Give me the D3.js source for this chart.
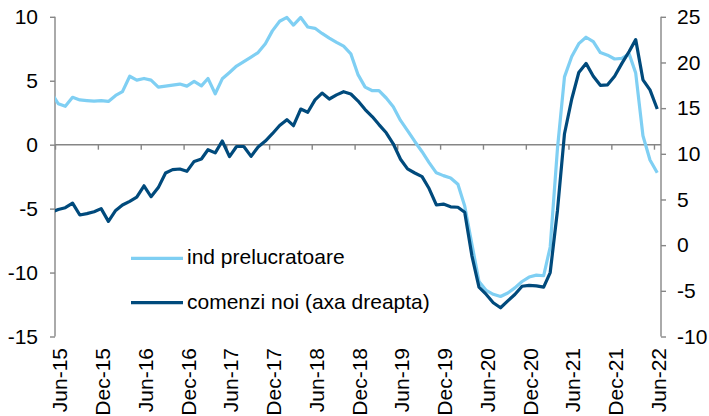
<!DOCTYPE html>
<html>
<head>
<meta charset="utf-8">
<script src="https://cdn.jsdelivr.net/npm/d3@7"></script>
<style>
  html, body { margin: 0; padding: 0; background: #ffffff; }
  svg { display: block; }
  text { font-family: Arial, "Liberation Sans", sans-serif; fill: #000; }
</style>
</head>
<body>
<svg id="chart" width="709" height="416"></svg>
<script>
// ---- data (monthly, first value = May-15, partially outside the axis) ----
const firstMonth = "2015-05";
const indPrelucratoare = [
  4.1,
  3.2, 3.0, 3.7, 3.5, 3.45, 3.4, 3.45, 3.38, 3.85, 4.15,
  5.35, 5.05, 5.18, 5.05, 4.5, 4.58, 4.66, 4.74, 4.58, 4.95,
  4.6, 5.18, 3.98, 5.15, 5.65, 6.15, 6.5, 6.85, 7.2, 7.9,
  8.9, 9.65, 9.95, 9.35, 9.95, 9.2, 9.1, 8.7, 8.33, 8.0,
  7.7, 7.1, 5.5, 4.5, 4.22, 4.22, 3.65, 2.97, 1.9, 1.1,
  0.25, -0.55, -1.4, -2.2, -2.42, -2.6, -3.1, -4.8, -7.8, -10.7,
  -11.4, -11.7, -11.87, -11.6, -11.2, -10.7, -10.35, -10.2, -10.25, -8.0,
  -0.3, 5.3, 6.9, 7.9, 8.4, 8.05, 7.2, 7.0, 6.7, 6.75,
  7.1, 5.6, 0.7, -1.2, -2.2
];
const comenziNoi = [
  3.6,
  3.9, 4.1, 4.6, 3.3, 3.45, 3.65, 4.0, 2.6, 3.8, 4.4,
  4.8, 5.25, 6.5, 5.3, 6.3, 7.9, 8.27, 8.34, 8.08, 9.17,
  9.43, 10.45, 10.1, 11.4, 9.7, 10.8, 10.8, 9.72, 10.75, 11.4,
  12.2, 13.1, 13.74, 13.08, 14.9, 14.55, 15.9, 16.65, 16.0, 16.45,
  16.8, 16.55, 15.8, 14.85, 14.05, 13.2, 12.3, 11.1, 9.4, 8.35,
  7.9, 7.5, 6.2, 4.4, 4.5, 4.2, 4.15, 3.6, -1.2, -4.6,
  -5.4, -6.3, -6.85, -6.1, -5.4, -4.5, -4.4, -4.45, -4.6, -3.0,
  3.8, 12.2, 16.0, 18.9, 19.9, 18.5, 17.5, 17.55, 18.5, 19.9,
  21.2, 22.5, 18.1, 17.0, 14.9
];
const leftTicks = [-15, -10, -5, 0, 5, 10];
const rightTicks = [-10, -5, 0, 5, 10, 15, 20, 25];
const xTickLabels = ["Jun-15","Dec-15","Jun-16","Dec-16","Jun-17","Dec-17","Jun-18",
  "Dec-18","Jun-19","Dec-19","Jun-20","Dec-20","Jun-21","Dec-21","Jun-22"];
const seriesNames = ["ind prelucratoare", "comenzi noi (axa dreapta)"];
const colors = ["#7fcff3", "#004a7c"];

// ---- scales ----
const parseMonth = d3.timeParse("%Y-%m");
const parseLabel = d3.timeParse("%b-%y");
const startMonth = parseMonth(firstMonth);
const dates = indPrelucratoare.map((_, i) => d3.timeDay.offset(d3.timeMonth.offset(startMonth, i), 14));
const tickDates = xTickLabels.map(parseLabel);

const plotLeft = 55, plotRight = 661, plotTop = 16.8, plotBottom = 336.5;
const fontSize = "21px";
const x = d3.scaleTime().domain([new Date(2015, 5, 1), new Date(2022, 6, 1)]).range([plotLeft, plotRight]);
const yL = d3.scaleLinear().domain([-15, 10]).range([plotBottom, plotTop]);
const yR = d3.scaleLinear().domain([-10, 25]).range([plotBottom, plotTop]);
const hyphenFormat = d => String(d); // plain hyphen-minus, as in the reference

const svg = d3.select("#chart");
const axisColor = "#868686";

svg.append("defs").append("clipPath").attr("id", "plotclip")
  .append("rect").attr("x", plotLeft).attr("y", 0).attr("width", plotRight - plotLeft).attr("height", 416);

// ---- axes ----
const gL = svg.append("g").attr("transform", `translate(${plotLeft},0)`)
  .call(d3.axisLeft(yL).tickValues(leftTicks).tickSize(5).tickPadding(12).tickFormat(hyphenFormat));
const gR = svg.append("g").attr("transform", `translate(${plotRight},0)`)
  .call(d3.axisRight(yR).tickValues(rightTicks).tickSize(5).tickPadding(11).tickFormat(hyphenFormat));
const gX = svg.append("g").attr("transform", `translate(0,${yL(0)})`)
  .call(d3.axisBottom(x).tickValues(tickDates).tickSize(5).tickFormat(""));

[gL, gR, gX].forEach(g => {
  g.select(".domain").attr("stroke", axisColor).attr("stroke-width", 1.4);
  g.selectAll(".tick line").attr("stroke", axisColor).attr("stroke-width", 1.4);
  g.selectAll("text").style("font-size", fontSize).attr("fill", "#000")
    .style("font-family", "Arial, 'Liberation Sans', sans-serif");
});
gL.select(".domain").attr("d", `M0,${plotTop}V${plotBottom}`);
gR.select(".domain").attr("d", `M0,${plotTop}V${plotBottom}`);
gX.select(".domain").attr("d", `M${plotLeft},0H${plotRight}`);

// x labels at the bottom, rotated
svg.append("g").selectAll("text").data(tickDates).join("text")
  .attr("transform", d => `translate(${x(d)},348) rotate(-90)`)
  .attr("text-anchor", "end")
  .attr("dy", "12px")
  .style("font-size", fontSize)
  .text((d, i) => xTickLabels[i]);

// ---- lines ----
const plot = svg.append("g").attr("clip-path", "url(#plotclip)");
const lineL = d3.line().x((d, i) => x(dates[i])).y(d => yL(d));
const lineR = d3.line().x((d, i) => x(dates[i])).y(d => yR(d));
plot.append("path").datum(indPrelucratoare).attr("d", lineL)
  .attr("fill", "none").attr("stroke", colors[0]).attr("stroke-width", 3.2)
  .attr("stroke-linejoin", "round");
plot.append("path").datum(comenziNoi).attr("d", lineR)
  .attr("fill", "none").attr("stroke", colors[1]).attr("stroke-width", 3.2)
  .attr("stroke-linejoin", "round");

// ---- legend ----
const legendY = [258.3, 302.7];
const lg = svg.append("g");
seriesNames.forEach((name, i) => {
  lg.append("line").attr("x1", 131).attr("x2", 183).attr("y1", legendY[i]).attr("y2", legendY[i])
    .attr("stroke", colors[i]).attr("stroke-width", 3.2);
  lg.append("text").attr("x", 187).attr("y", legendY[i] + 6)
    .style("font-size", fontSize).text(name);
});
</script>
</body>
</html>
